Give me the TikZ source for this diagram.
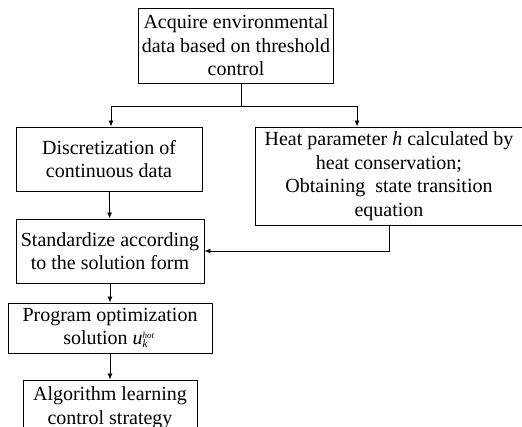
\documentclass[tikz,border=0pt]{standalone}
\usepackage{fontspec}
\setmainfont{Liberation Serif}
\usetikzlibrary{arrows.meta}

\tikzset{
  stepbox/.style={draw, line width=0.9pt, align=center, inner sep=3pt,
    font=\fontsize{20}{23.5}\selectfont},
  flow/.style={-{Latex[length=6pt,width=5pt]}, line width=0.9pt},
}
\newcommand{\tinyit}[2]{\hbox{\fontsize{#1}{#1}\selectfont\textit{#2}}}

\begin{document}
\begin{tikzpicture}[x=1pt, y=1pt]
      \useasboundingbox (0,0) rectangle (522,-427);
      \clip (0,0) rectangle (522,-427);
      \node (Acq) [stepbox, minimum width=194pt, minimum height=75pt] at (236,-45.5)
        {Acquire environmental\\data based on threshold\\control};
      \node (Dis) [stepbox, minimum width=186pt, minimum height=64pt] at (109,-159)
        {Discretization of\\continuous data};
      \node (Hea) [stepbox, minimum width=268pt, minimum height=98pt] at (389,-176)
        {Heat parameter \textit{h} calculated by\\heat conservation;\\Obtaining\ \ state transition\\equation};
      \node (Std) [stepbox, minimum width=188pt, minimum height=64pt] at (110,-251)
        {Standardize according\\to the solution form};
      \node (Prg) [stepbox, minimum width=204pt, minimum height=50pt] at (110,-328)
        {Program optimization\\solution \textit{u}\raisebox{6pt}{\rlap{\tinyit{9}{hot}}}\raisebox{-3pt}{\tinyit{11}{k}}\hphantom{\tinyit{9}{ho}}};
      \node (Alg) [stepbox, minimum width=174pt, minimum height=55pt] at (110,-407.5)
        {Algorithm learning\\control strategy};
      % branch below the first box
      \coordinate (Spl) at (241,-106);
      \coordinate (Lft) at (111,-106);
      \coordinate (Rgt) at (357,-106);
      \draw[line width=0.9pt] (Acq.south -| Spl) -- (Spl);
      \draw[flow] (Spl) -- (Lft) -- (Lft |- Dis.north);
      \draw[flow] (Spl) -- (Rgt) -- (Rgt |- Hea.north);
      \draw[flow] (Dis) -- (Std);
      \draw[flow] (Hea.south) |- (Std.east);
      \draw[flow] (Std) -- (Prg);
      \draw[flow] (Prg) -- (Alg);
    \end{tikzpicture}
\end{document}
